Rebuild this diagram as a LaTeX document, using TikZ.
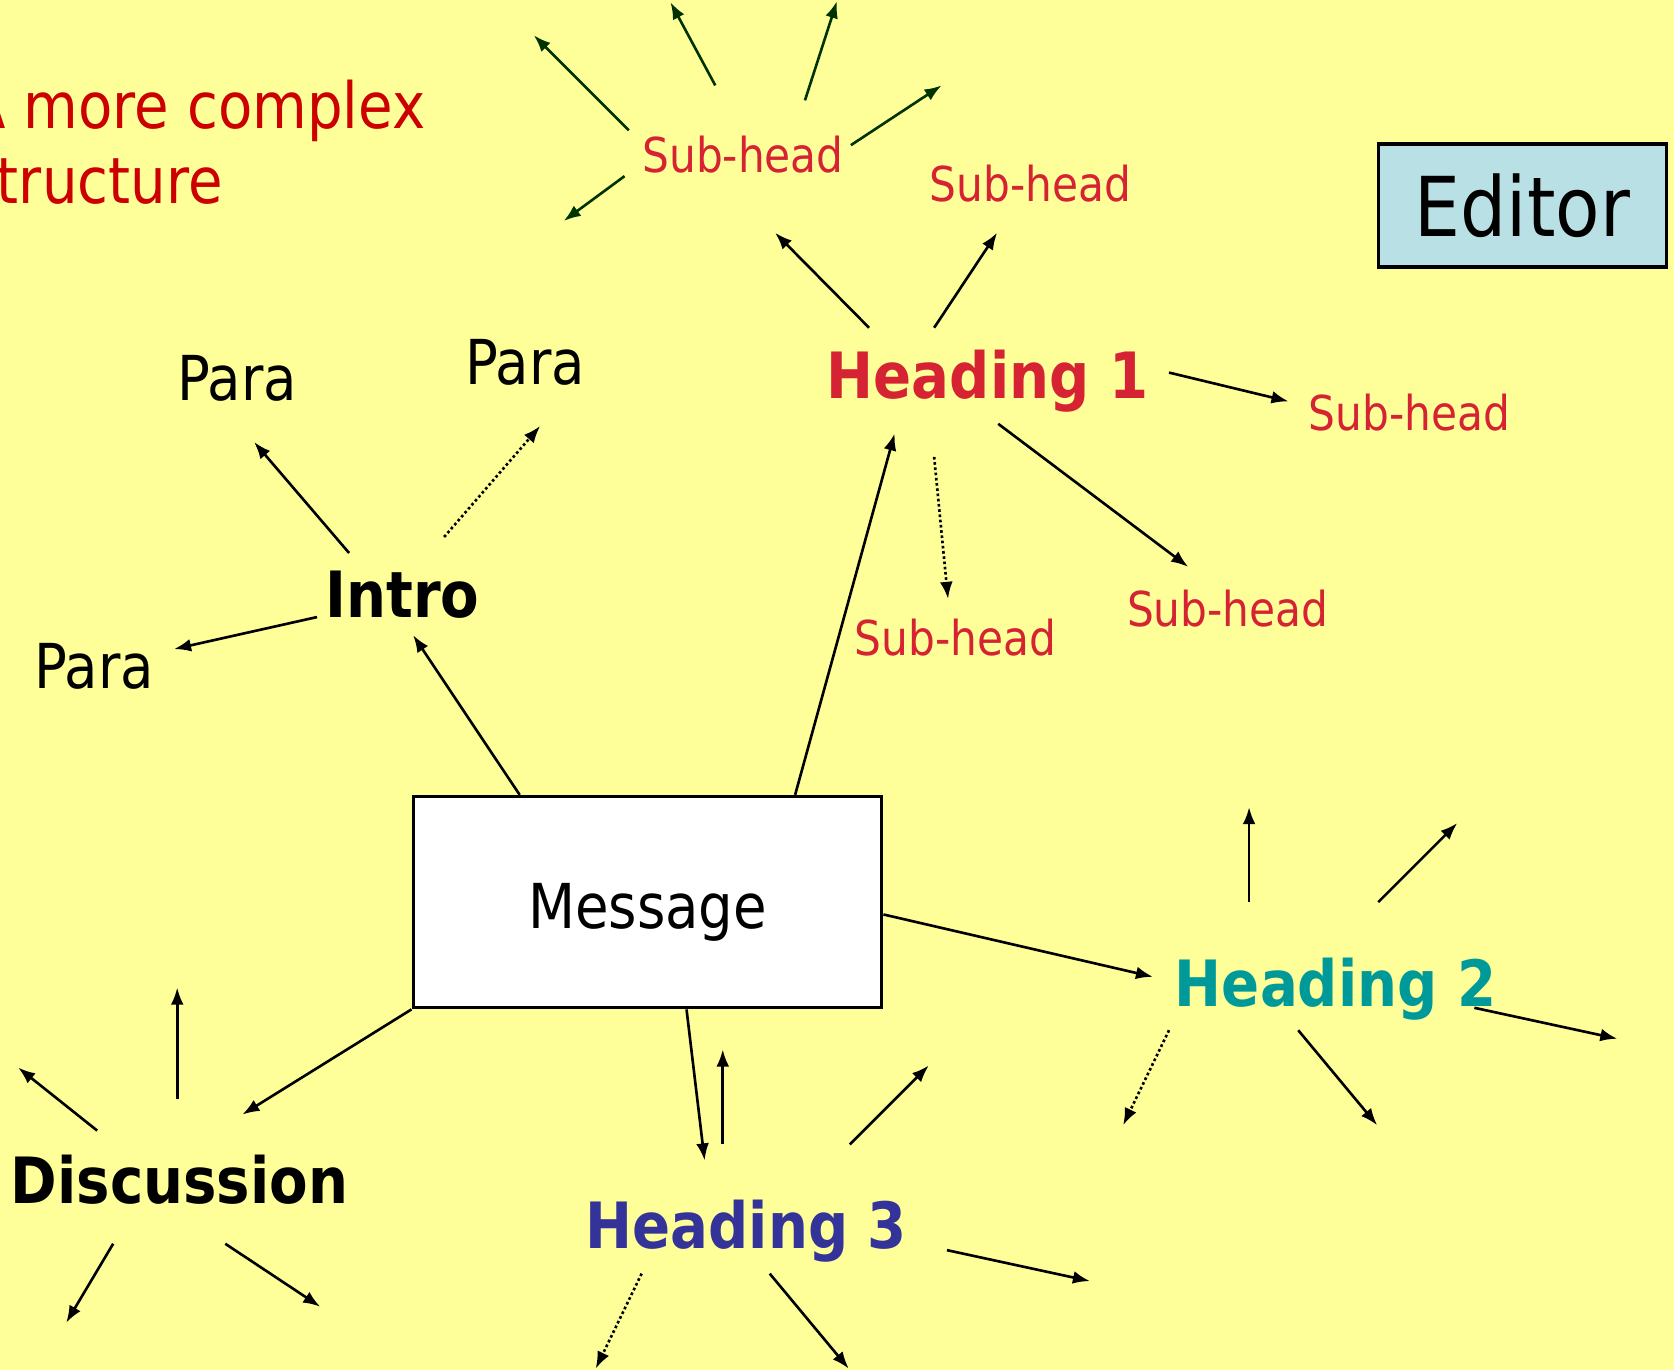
\documentclass[tikz,border=0pt]{standalone}
\usepackage{fontspec}
\setmainfont{DejaVu Sans}[FakeStretch=0.88]
\usepackage{xcolor}
\definecolor{bgyellow}{HTML}{FFFF99}
\definecolor{titlered}{HTML}{CC0000}
\definecolor{subred}{HTML}{D52333}
\definecolor{tealhead}{HTML}{009999}
\definecolor{bluehead}{HTML}{333399}
\definecolor{editorblue}{HTML}{B9E0E4}
\definecolor{darkgreen}{HTML}{003300}
\usepackage{tikz}
\usetikzlibrary{arrows.meta,positioning}

\begin{document}
\begin{tikzpicture}[x=0.01cm, y=-0.01cm,
  titletext/.style={anchor=base west, inner sep=0pt, text=titlered, font=\fontsize{17}{20}\selectfont},
  hubtext/.style={anchor=base, inner sep=0pt, text height=0.44cm, text depth=0.14cm, font=\fontsize{17}{20}\selectfont\bfseries},
  paratext/.style={anchor=base, inner sep=0pt, font=\fontsize{16.5}{20}\selectfont},
  subtext/.style={anchor=base, inner sep=0pt, text=subred, font=\fontsize{12.8}{15}\selectfont},
  msgbox/.style={draw, line width=0.8pt, fill=white, minimum width=4.39cm, minimum height=1.98cm, inner sep=0pt, text height=0.49cm, text depth=0cm, font=\fontsize{16.5}{20}\selectfont},
  editorbox/.style={draw, line width=0.9pt, fill=editorblue, minimum width=2.7cm, minimum height=1.15cm, inner sep=0pt, font=\fontsize{22}{26}\selectfont},
  arrow/.style={-{Latex[length=1.6mm, width=1.2mm]}, line width=0.7pt},
  dotarrow/.style={arrow, dash pattern=on 0.7pt off 0.7pt},
  greenarrow/.style={arrow, draw=darkgreen}
]

% Background
\fill[bgyellow] (0,0) rectangle (1568,1283);
\useasboundingbox (0,0) rectangle (1568,1283);

% Title
\node[titletext] (title) at (-31,120) {A more complex};
\node[titletext] (title2) at (-31,191) {structure};

% Editor
\node[editorbox] (editor) at (1426,192.5) {Editor};

% Message
\node[msgbox] (message) at (606.5,845) {Message};

% Intro and paragraphs
\node[hubtext] (intro) at (377,578) {Intro};
\node[paratext] (para1) at (222,375) {Para};
\node[paratext] (para2) at (492,360) {Para};
\node[paratext] (para3) at (88,645) {Para};
\coordinate (in-a) at (327,518);  \coordinate (p1-in) at (238,414);
\coordinate (in-b) at (416,503);  \coordinate (p2-in) at (506,399);
\coordinate (in-c) at (297,578);  \coordinate (p3-in) at (163,608);
\coordinate (intro-in) at (387,595);

% Heading 1 and sub-heads
\node[hubtext, text=subred] (heading1) at (925,373) {Heading 1};
\node[subtext] (subhead1) at (696,162) {Sub-head};
\node[subtext] (subhead2) at (965,189) {Sub-head};
\node[subtext] (subhead3) at (1320,403) {Sub-head};
\node[subtext] (subhead4) at (1150,587) {Sub-head};
\node[subtext] (subhead5) at (895,614) {Sub-head};
\coordinate (h1-a) at (814,307);   \coordinate (s1-in) at (726,218);
\coordinate (h1-b) at (875,307);   \coordinate (s2-in) at (934,218);
\coordinate (h1-c) at (1095,349);  \coordinate (s3-in) at (1207,376);
\coordinate (h1-d) at (935,397);   \coordinate (s4-in) at (1113,531);
\coordinate (h1-e) at (875,428);   \coordinate (s5-in) at (888,561);
\coordinate (h1-in) at (838,406);

% Sub-head fan
\coordinate (s1-a) at (589,122);  \coordinate (s1-a-end) at (500,33);
\coordinate (s1-b) at (670,80);   \coordinate (s1-b-end) at (628,2);
\coordinate (s1-c) at (754,94);   \coordinate (s1-c-end) at (784,1);
\coordinate (s1-d) at (797,136);  \coordinate (s1-d-end) at (882,80);
\coordinate (s1-e) at (585,165);  \coordinate (s1-e-end) at (528,207);

% Heading 2
\node[hubtext, text=tealhead] (heading2) at (1251,943) {Heading 2};
\coordinate (h2-in) at (1080,915);
\coordinate (h2-a) at (1170,845);  \coordinate (h2-a-end) at (1170,756);
\coordinate (h2-b) at (1291,845);  \coordinate (h2-b-end) at (1365,771);
\coordinate (h2-c) at (1381,944);  \coordinate (h2-c-end) at (1515,973);
\coordinate (h2-d) at (1216,965);  \coordinate (h2-d-end) at (1290,1054);
\coordinate (h2-e) at (1095,965);  \coordinate (h2-e-end) at (1052,1054);

% Heading 3
\node[hubtext, text=bluehead] (heading3) at (699,1169) {Heading 3};
\coordinate (h3-in) at (660,1087);
\coordinate (h3-a) at (677,1072);  \coordinate (h3-a-end) at (677,983);
\coordinate (h3-b) at (796,1072);  \coordinate (h3-b-end) at (870,998);
\coordinate (h3-c) at (887,1171);  \coordinate (h3-c-end) at (1021,1200);
\coordinate (h3-d) at (721,1193);  \coordinate (h3-d-end) at (795,1282);
\coordinate (h3-e) at (601,1193);  \coordinate (h3-e-end) at (558,1282);

% Discussion
\node[hubtext] (discussion) at (168,1127) {Discussion};
\coordinate (d-in) at (227,1044);
\coordinate (d-a) at (166,1029);  \coordinate (d-a-end) at (166,925);
\coordinate (d-b) at (91,1059);   \coordinate (d-b-end) at (17,1000);
\coordinate (d-c) at (106,1165);  \coordinate (d-c-end) at (62,1239);
\coordinate (d-d) at (211,1165);  \coordinate (d-d-end) at (300,1224);

% Connections from the message
\draw[arrow] (message.140.6) -- (intro-in);
\draw[arrow] (message.36.6) -- (h1-in);
\draw[arrow] (message.-3.4) -- (h2-in);
\draw[arrow] (message.-70.8) -- (h3-in);
\draw[arrow] (message.south west) -- (d-in);

% Intro
\draw[arrow] (in-a) -- (p1-in);
\draw[dotarrow] (in-b) -- (p2-in);
\draw[arrow] (in-c) -- (p3-in);

% Heading 1
\draw[arrow] (h1-a) -- (s1-in);
\draw[arrow] (h1-b) -- (s2-in);
\draw[arrow] (h1-c) -- (s3-in);
\draw[arrow] (h1-d) -- (s4-in);
\draw[dotarrow] (h1-e) -- (s5-in);

% Sub-head fan
\foreach \k in {a,b,c,d,e}
  \draw[greenarrow] (s1-\k) -- (s1-\k-end);

% Heading 2, Heading 3, Discussion
\foreach \k in {a,b,c,d}
  \draw[arrow] (h2-\k) -- (h2-\k-end);
\draw[dotarrow] (h2-e) -- (h2-e-end);
\foreach \k in {a,b,c,d}
  \draw[arrow] (h3-\k) -- (h3-\k-end);
\draw[dotarrow] (h3-e) -- (h3-e-end);
\foreach \k in {a,b,c,d}
  \draw[arrow] (d-\k) -- (d-\k-end);

\end{tikzpicture}
\end{document}
